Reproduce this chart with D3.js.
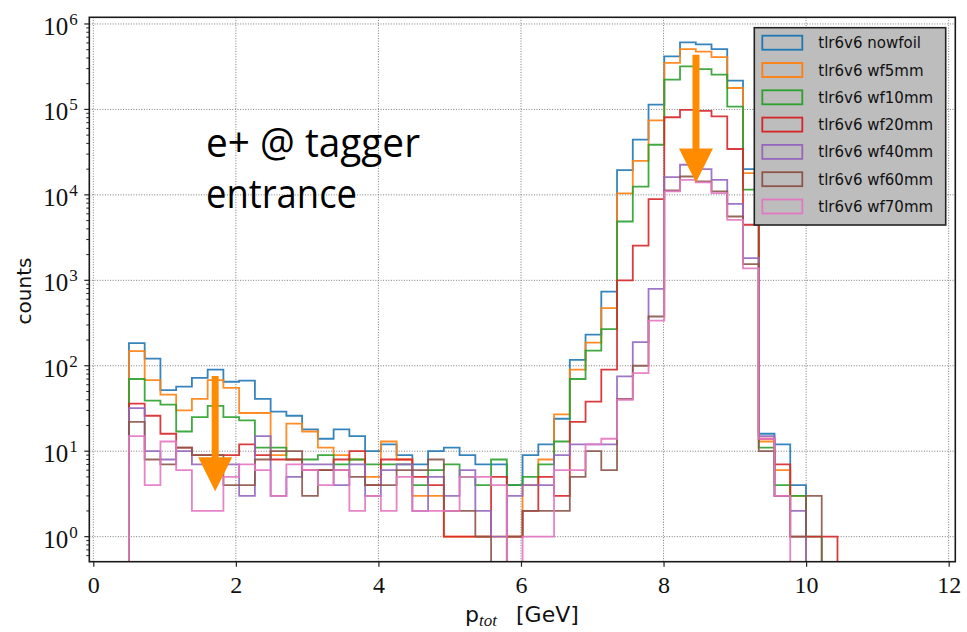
<!DOCTYPE html>
<html>
<head>
<meta charset="utf-8">
<script src="https://cdn.jsdelivr.net/npm/d3@7"></script>
<style>
  body { margin: 0; background: #fff; }
  svg { display: block; }
</style>
</head>
<body>
<div id="chart"></div>
<script>
const width = 967;
const height = 632;

// histogram binning: 45 equal bins
const binLo = 0.5;
const binHi = 10.44;
const nBins = 45;

const seriesNames = ["tlr6v6 nowfoil", "tlr6v6 wf5mm", "tlr6v6 wf10mm", "tlr6v6 wf20mm",
    "tlr6v6 wf40mm", "tlr6v6 wf60mm", "tlr6v6 wf70mm"];
const colors = ["#1f77b4", "#ff7f0e", "#2ca02c", "#d62728", "#9467bd", "#8c564b", "#e377c2"];

// counts per bin
const nowfoil = [184, 121, 52, 57, 72, 90, 65, 67, 41, 29, 26, 18, 14, 18, 15, 10, 12, 9, 7, 10,
    11, 9, 7, 7, 4, 9, 12, 24, 117, 232, 739, 19500, 44200, 113500, 418000, 609000, 578000, 509000, 217000, 20000,
    16, 12, 4, 0, 0];
const wf5mm = [148, 68, 46, 30, 41, 68, 55, 28, 28, 9, 21, 17, 11, 9, 8, 5, 13, 8, 3, 3,
    1, 1, 1, 1, 1, 4, 8, 27, 90, 187, 472, 10400, 25000, 74300, 350000, 509000, 474000, 410000, 178000, 18000,
    13, 6, 3, 0, 0];
const wf10mm = [70, 39, 35, 17, 25, 34, 25, 23, 11, 11, 8, 8, 9, 7, 8, 7, 7, 7, 4, 6,
    7, 5, 4, 8, 4, 5, 7, 13, 70, 150, 268, 4880, 12500, 38600, 223000, 319000, 296000, 255000, 108000, 11500,
    11, 4, 3, 1, 0];
const wf20mm = [36, 26, 16, 11, 9, 9, 9, 12, 9, 8, 8, 6, 6, 8, 10, 4, 8, 8, 5, 4,
    1, 1, 1, 5, 1, 2, 5, 3, 22, 38, 90, 1000, 2540, 8920, 81000, 99000, 96000, 82800, 34400, 4470,
    14, 7, 1, 1, 1];
const wf40mm = [32, 10, 8, 10, 7, 7, 7, 3, 15, 3, 5, 7, 7, 4, 7, 3, 6, 7, 2, 5,
    3, 6, 2, 1, 3, 4, 4, 9, 12, 12, 12, 75, 189, 795, 16100, 22500, 20000, 15000, 7850, 1820,
    15, 3, 2, 0, 0];
const wf60mm = [22, 8, 7, 11, 9, 9, 4, 4, 8, 10, 10, 3, 6, 6, 5, 4, 4, 6, 6, 8,
    2, 2, 1, 0, 1, 2, 2, 2, 5, 10, 6, 41, 100, 377, 11300, 16400, 14400, 11000, 5580, 1550,
    10, 3, 1, 3, 0];
const wf70mm = [15, 4, 13, 6, 2, 2, 5, 7, 6, 3, 7, 6, 4, 6, 2, 3, 2, 5, 2, 2,
    2, 5, 5, 4, 0, 1, 1, 6, 6, 12, 14, 40, 82, 338, 11000, 15000, 14000, 10500, 5100, 1380,
    14, 3, 0, 0, 0];
const allCounts = [nowfoil, wf5mm, wf10mm, wf20mm, wf40mm, wf60mm, wf70mm];

const xTicks = [0, 2, 4, 6, 8, 10, 12];
const yTickExps = [0, 1, 2, 3, 4, 5, 6];

// orange annotation arrows: x, start count, tip count
const arrows = [
    {x: 1.71, from: 76, to: 3.4},
    {x: 8.455, from: 437000, to: 14000}
];
const noteLines = ["e+ @ tagger", "entrance"];

const pLeft = 89.3, pRight = 955.3, pTop = 17.3, pBottom = 561.7;

const xScale = d3.scaleLinear().domain([-0.056, 12.093]).range([pLeft, pRight]);
const yScale = d3.scaleLog().domain([Math.pow(10, -0.293), Math.pow(10, 6.078)]).range([pBottom, pTop]);

const svg = d3.select("#chart").append("svg")
    .attr("width", width)
    .attr("height", height);

svg.append("defs").append("clipPath").attr("id", "plotclip")
    .append("rect")
    .attr("x", pLeft).attr("y", pTop)
    .attr("width", pRight - pLeft).attr("height", pBottom - pTop);

// grid
let grid = svg.append("g").attr("class", "grid");
grid.selectAll("line.gx").data(xTicks).enter().append("line")
    .attr("x1", d => xScale(d)).attr("x2", d => xScale(d))
    .attr("y1", pTop).attr("y2", pBottom)
    .attr("stroke", "#7a7a7a").attr("stroke-width", 1).attr("stroke-dasharray", "1,1.6");
grid.selectAll("line.gy").data(yTickExps).enter().append("line")
    .attr("x1", pLeft).attr("x2", pRight)
    .attr("y1", d => yScale(Math.pow(10, d))).attr("y2", d => yScale(Math.pow(10, d)))
    .attr("stroke", "#7a7a7a").attr("stroke-width", 1).attr("stroke-dasharray", "1,1.6");

// step histograms
const edges = d3.range(nBins + 1).map(i => binLo + i * (binHi - binLo) / nBins);
const floorVal = 1e-3;

function stepPoints(counts) {
    let pts = [[edges[0], floorVal]];
    counts.forEach((c, i) => {
        let v = c > 0 ? c : floorVal;
        pts.push([edges[i], v]);
        pts.push([edges[i + 1], v]);
    });
    pts.push([edges[nBins], floorVal]);
    return pts;
}

const line = d3.line()
    .x(d => xScale(d[0]))
    .y(d => yScale(d[1]));

let hist = svg.append("g").attr("clip-path", "url(#plotclip)");
hist.selectAll("path").data(allCounts).enter().append("path")
    .attr("d", d => line(stepPoints(d)))
    .attr("fill", "none")
    .attr("stroke", (d, i) => colors[i])
    .attr("stroke-width", 1.8)
    .attr("stroke-opacity", 0.9)
    .attr("stroke-linejoin", "miter");

// axes
let xAxis = svg.append("g")
    .attr("transform", `translate(0,${pBottom})`)
    .call(d3.axisBottom(xScale).tickValues(xTicks).tickSize(5).tickPadding(9).tickFormat(d3.format("d")));
xAxis.select(".domain").remove();
xAxis.selectAll("text")
    .style("font-family", "'Liberation Serif', 'DejaVu Serif', serif")
    .style("font-size", "24px")
    .attr("fill", "#111");
xAxis.selectAll("line").attr("stroke", "#222").attr("stroke-width", 1.2);

let yAxis = svg.append("g").attr("transform", `translate(${pLeft},0)`);
let minorVals = [];
yTickExps.forEach(e => { for (let m = 2; m <= 9; m++) minorVals.push(m * Math.pow(10, e - 1)); });
for (let m = 2; m <= 9; m++) minorVals.push(m * 1e6);
minorVals = minorVals.filter(v => v >= yScale.domain()[0] && v <= yScale.domain()[1]);
yAxis.selectAll("line.minor").data(minorVals).enter().append("line")
    .attr("x1", -3).attr("x2", 0)
    .attr("y1", d => yScale(d)).attr("y2", d => yScale(d))
    .attr("stroke", "#222").attr("stroke-width", 1);
yAxis.selectAll("line.major").data(yTickExps).enter().append("line")
    .attr("x1", -5).attr("x2", 0)
    .attr("y1", d => yScale(Math.pow(10, d))).attr("y2", d => yScale(Math.pow(10, d)))
    .attr("stroke", "#222").attr("stroke-width", 1.2);
yAxis.selectAll("text.tick").data(yTickExps).enter().append("text")
    .attr("x", -21)
    .attr("y", d => yScale(Math.pow(10, d)) + 11)
    .attr("text-anchor", "end")
    .style("font-family", "'Liberation Serif', 'DejaVu Serif', serif")
    .style("font-size", "25px")
    .attr("fill", "#111")
    .text("10");
yAxis.selectAll("text.exp").data(yTickExps).enter().append("text")
    .attr("x", -20)
    .attr("y", d => yScale(Math.pow(10, d)) + 1)
    .attr("text-anchor", "start")
    .style("font-family", "'Liberation Serif', 'DejaVu Serif', serif")
    .style("font-size", "17px")
    .attr("fill", "#111")
    .text(d => d);

// frame
svg.append("rect")
    .attr("x", pLeft).attr("y", pTop)
    .attr("width", pRight - pLeft).attr("height", pBottom - pTop)
    .attr("fill", "none").attr("stroke", "#1a1a1a").attr("stroke-width", 1.6);

// axis titles
svg.append("text")
    .attr("transform", `translate(31, 291) rotate(-90)`)
    .attr("text-anchor", "middle")
    .style("font-family", "'DejaVu Sans', sans-serif")
    .style("font-size", "20px")
    .attr("fill", "#111")
    .text("counts");

let xt = svg.append("text")
    .attr("x", 465)
    .attr("y", 622)
    .style("font-family", "'DejaVu Sans', sans-serif")
    .style("font-size", "22px")
    .attr("fill", "#111");
xt.append("tspan").text("p");
xt.append("tspan").attr("dy", 4)
    .style("font-family", "'Liberation Serif', 'DejaVu Serif', serif")
    .style("font-style", "italic").style("font-size", "17px").text("tot");
xt.append("tspan").attr("dy", -4).attr("x", 516).text("[GeV]");

// annotation text
svg.selectAll("text.note").data(noteLines).enter().append("text")
    .attr("x", 206)
    .attr("y", (d, i) => 157 + i * 51)
    .attr("textLength", (d, i) => i === 0 ? 214 : 151)
    .attr("lengthAdjust", "spacingAndGlyphs")
    .style("font-family", "'Ubuntu Condensed', 'Liberation Sans Narrow', 'Open Sans', sans-serif")
    .style("font-size", "40px")
    .attr("fill", "#000")
    .text(d => d);

// orange arrows
const shaftW = 7, headW = 34, headL = 34;
svg.selectAll("path.arrow").data(arrows).enter().append("path")
    .attr("d", d => {
        let cx = xScale(d.x), y0 = yScale(d.from), y1 = yScale(d.to);
        let hb = y1 - headL;
        return `M${cx - shaftW / 2},${y0} L${cx + shaftW / 2},${y0} L${cx + shaftW / 2},${hb} ` +
            `L${cx + headW / 2},${hb} L${cx},${y1} L${cx - headW / 2},${hb} L${cx - shaftW / 2},${hb} Z`;
    })
    .attr("fill", "#ff8c00");

// legend
let legend = svg.append("g").attr("transform", "translate(754.3,27.7)");
legend.append("rect")
    .attr("width", 191.4).attr("height", 197.3)
    .attr("fill", "#bdbdbd").attr("stroke", "#222").attr("stroke-width", 1.6);
let items = legend.selectAll("g.item").data(seriesNames).enter().append("g")
    .attr("transform", (d, i) => `translate(0,${15 + i * 27.3})`);
items.append("rect")
    .attr("x", 8).attr("y", -7).attr("width", 40).attr("height", 14)
    .attr("fill", "none")
    .attr("stroke", (d, i) => colors[i])
    .attr("stroke-width", 1.8);
items.append("text")
    .attr("x", 64).attr("y", 5.5)
    .style("font-family", "'DejaVu Sans', sans-serif")
    .style("font-size", "15px")
    .attr("fill", "#111")
    .text(d => d);
</script>
</body>
</html>
